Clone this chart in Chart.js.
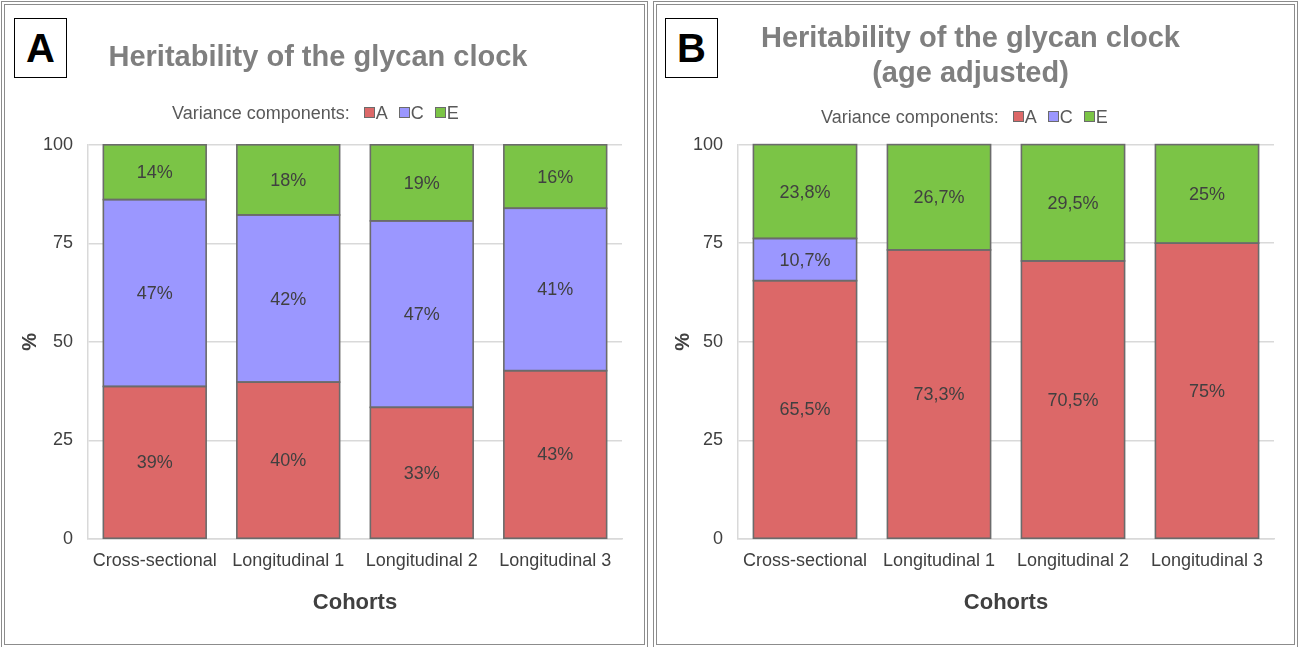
<!DOCTYPE html>
<html>
<head>
  <title>Heritability of the glycan clock</title>
  <script src="https://cdn.jsdelivr.net/npm/chart.js"></script>
  <style>
    body {
      margin: 0;
      width: 1301px;
      height: 647px;
      position: relative;
      background: #fff;
      font-family: "Liberation Sans", Arial, sans-serif;
      overflow: hidden;
    }
    .panel {
      position: absolute;
      top: 1px;
      height: 639px;
      border: 4px double #8c8c8c;
    }
    canvas {
      position: absolute;
      top: 0;
    }
    .letter {
      position: absolute;
      top: 18px;
      width: 51px;
      height: 58px;
      border: 1.5px solid #000;
      background: #fff;
      font-weight: bold;
      font-size: 40px;
      line-height: 58px;
      text-align: center;
      color: #000;
    }
    .legend {
      position: absolute;
      font-size: 18px;
      color: #595959;
      white-space: nowrap;
      line-height: 20px;
    }
    .legend .box {
      display: inline-block;
      width: 9px;
      height: 9px;
      border: 1px solid #6b6b6b;
      margin: 0 1px 0 11px;
      vertical-align: 1px;
    }
    .legend .box.first {
      margin-left: 14px;
    }
  </style>
</head>
<body>
  <div class="panel" style="left:1px; width:639px;"></div>
  <div class="panel" style="left:653px; width:637px;"></div>

  <canvas id="chartA" width="650" height="647" style="left:0px;"></canvas>
  <canvas id="chartB" width="648" height="647" style="left:653px;"></canvas>

  <div class="letter" style="left:14px;">A</div>
  <div class="letter" style="left:665px;">B</div>

  <div class="legend" id="legendA" style="left:172px; top:103px;"></div>
  <div class="legend" id="legendB" style="left:821px; top:107px;"></div>

  <script>
    // Cohorts on the x axis
    const cohorts = ['Cross-sectional', 'Longitudinal 1', 'Longitudinal 2', 'Longitudinal 3'];

    // Panel A - raw glycan clock (%)
    const additiveA = [38.7, 39.8, 33.4, 42.7];
    const commonA = [47.4, 42.4, 47.3, 41.2];
    const uniqueA = [13.9, 17.8, 19.3, 16.1];

    // Panel B - age adjusted (%)
    const additiveB = [65.5, 73.3, 70.5, 75];
    const commonB = [10.7, 0, 0, 0];
    const uniqueB = [23.8, 26.7, 29.5, 25];

    const componentNames = ['A', 'C', 'E'];
    const componentColors = ['#dc6868', '#9b97ff', '#7bc446'];

    const fontFamily = '"Liberation Sans", Arial, sans-serif';

    // legends drawn as text next to the charts
    function buildLegend(id) {
      let html = 'Variance components:';
      componentNames.forEach((name, i) => {
        const cls = i === 0 ? 'box first' : 'box';
        html += '<span class="' + cls + '" style="background:' + componentColors[i] + '"></span>' + name;
      });
      document.getElementById(id).innerHTML = html;
    }
    buildLegend('legendA');
    buildLegend('legendB');

    // outlines every non-empty segment (centred on its edges so that
    // neighbouring segments share one line) and writes its value
    const segmentLabels = {
      id: 'segmentLabels',
      afterDatasetsDraw(chart, args, opts) {
        const ctx = chart.ctx;
        ctx.save();
        ctx.strokeStyle = '#6b6b6b';
        ctx.lineWidth = 1.6;
        chart.data.datasets.forEach((ds, di) => {
          chart.getDatasetMeta(di).data.forEach((bar, i) => {
            if (!ds.data[i]) return;
            const { x, y, base, width } = bar.getProps(['x', 'y', 'base', 'width']);
            ctx.strokeRect(x - width / 2, Math.min(y, base), width, Math.abs(base - y));
          });
        });

        ctx.font = '18px ' + fontFamily;
        ctx.fillStyle = '#404040';
        ctx.textAlign = 'center';
        ctx.textBaseline = 'middle';
        chart.data.datasets.forEach((ds, di) => {
          chart.getDatasetMeta(di).data.forEach((bar, i) => {
            const v = ds.data[i];
            if (!v) return;
            const p = bar.getCenterPoint();
            ctx.fillText(opts.format(v), p.x, p.y + 1);
          });
        });
        ctx.restore();
      }
    };

    function makeChart(id, title, values, fmt, padLeft, padRight, yWidth, titlePad) {
      const ctx = document.getElementById(id).getContext('2d');
      return new Chart(ctx, {
        type: 'bar',
        data: {
          labels: cohorts,
          datasets: values.map((vals, i) => ({
            label: componentNames[i],
            data: vals,
            backgroundColor: componentColors[i],
            borderWidth: 0,
            categoryPercentage: 1,
            barPercentage: 0.77
          }))
        },
        options: {
          responsive: false,
          animation: false,
          layout: { padding: { left: padLeft, right: padRight, top: 0, bottom: 0 } },
          plugins: {
            legend: { display: false },
            tooltip: { enabled: false },
            title: {
              display: true,
              text: title,
              color: '#7f7f7f',
              font: { family: fontFamily, size: 29, weight: 'bold' },
              padding: titlePad
            },
            segmentLabels: { format: fmt }
          },
          scales: {
            x: {
              stacked: true,
              grid: { display: false, drawTicks: false },
              border: { display: true, color: '#d9d9d9', width: 1.5 },
              ticks: { color: '#404040', font: { family: fontFamily, size: 18 }, padding: 11, maxRotation: 0 },
              title: {
                display: true,
                text: 'Cohorts',
                color: '#404040',
                font: { family: fontFamily, size: 22, weight: 'bold' },
                padding: { top: 0, bottom: 31 }
              },
              afterFit(scale) { scale.height = 108; }
            },
            y: {
              stacked: true,
              min: 0,
              max: 100,
              ticks: { stepSize: 25, color: '#404040', font: { family: fontFamily, size: 18 }, padding: 15 },
              grid: { color: '#d9d9d9', lineWidth: 1.5, drawTicks: false },
              border: { display: true, color: '#d9d9d9', width: 1.5 },
              title: {
                display: true,
                text: '%',
                color: '#404040',
                font: { family: fontFamily, size: 20, weight: 'bold' },
                padding: { top: 4, bottom: 0 }
              },
              afterFit(scale) { scale.width = yWidth; }
            }
          }
        },
        plugins: [segmentLabels]
      });
    }

    makeChart('chartA', 'Heritability of the glycan clock',
      [additiveA, commonA, uniqueA],
      v => Math.round(v) + '%',
      14, 28, 74, { top: 41, bottom: 69 });

    makeChart('chartB', ['Heritability of the glycan clock', '(age adjusted)'],
      [additiveB, commonB, uniqueB],
      v => String(v).replace('.', ',') + '%',
      14, 27, 71, { top: 22, bottom: 53 });
  </script>
</body>
</html>
